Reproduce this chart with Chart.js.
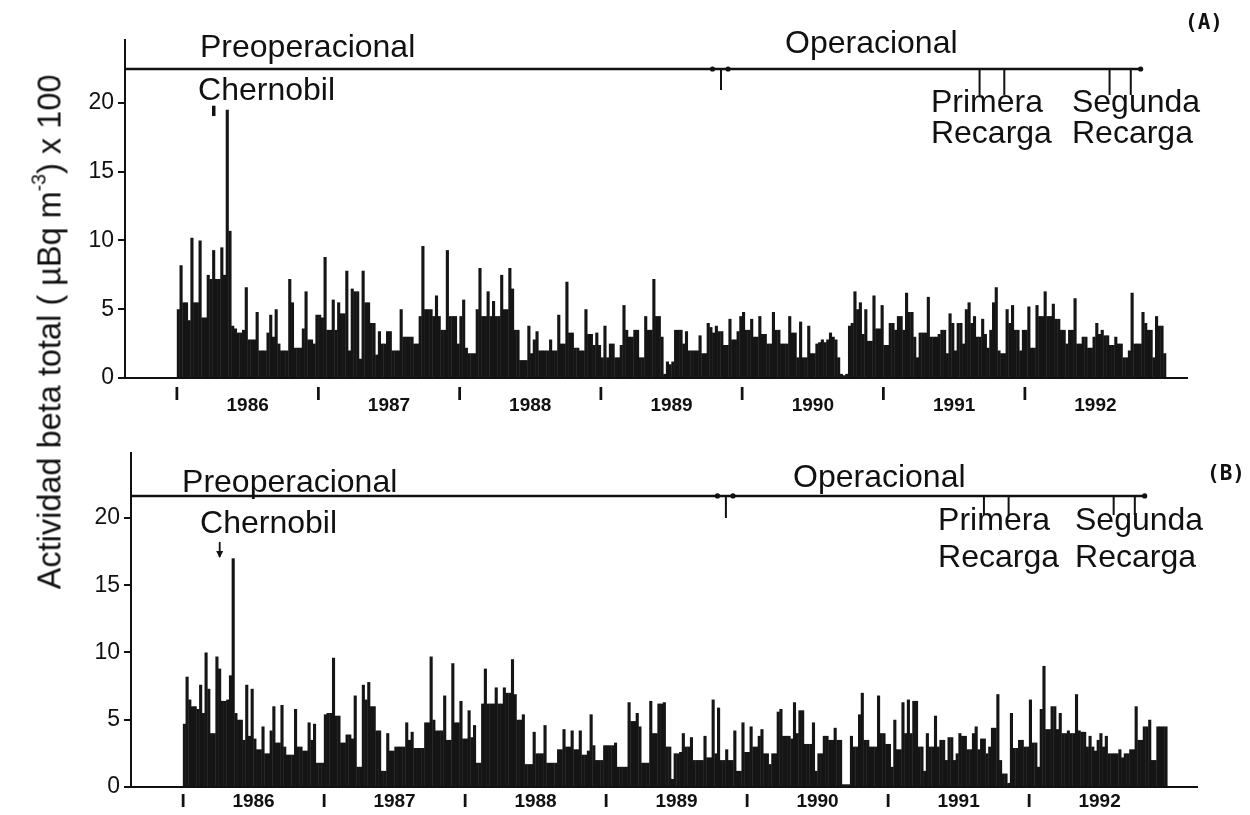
<!DOCTYPE html>
<html><head><meta charset="utf-8">
<script src="https://cdn.jsdelivr.net/npm/chart.js@4.4.1/dist/chart.umd.min.js"></script>
<style>
html,body{margin:0;padding:0;background:#fff;}
body{width:1250px;height:815px;position:relative;overflow:hidden;}
canvas{position:absolute;left:0;}
#cA{top:0;} #cB{top:425px;}
#ytitle{position:absolute;left:50px;top:332px;transform:translate(-50%,-50%) rotate(-90deg);white-space:nowrap;font-family:"Liberation Sans",Arial,sans-serif;font-size:32.5px;color:#111;}
#ytitle sup{font-size:0.6em;line-height:0;vertical-align:0.75em;}
</style></head>
<body>
<canvas id="cA" width="1250" height="425"></canvas>
<canvas id="cB" width="1250" height="390"></canvas>
<div id="ytitle">Actividad beta total ( µBq m<sup>-3</sup>) x 100</div>
<script>
// ---------- data ----------
const years = [1986, 1987, 1988, 1989, 1990, 1991, 1992];
const startYear = 1986;
const weeksPerYear = 52;
const yTicks = [0, 5, 10, 15, 20];

// Panel (A): weekly total beta activity (x100 µBq/m3)
const betaA = [
  // 1986
  5.0, 8.2, 5.5, 5.5, 4.2, 10.2, 5.5, 5.5, 10.0, 4.4,
  4.4, 7.5, 7.2, 9.3, 7.2, 7.2, 9.5, 7.5, 19.5, 10.7,
  3.8, 3.6, 3.3, 3.3, 3.5, 6.6, 2.8, 2.8, 2.8, 4.8,
  2.0, 2.0, 2.0, 3.3, 4.6, 3.0, 5.0, 2.5, 2.0, 2.0,
  2.0, 7.2, 5.5, 2.2, 2.2, 2.2, 3.6, 6.3, 2.8, 2.8,
  2.5, 4.6,
  // 1987
  4.6, 4.4, 8.8, 3.5, 3.5, 5.7, 3.5, 5.5, 4.7, 4.7,
  7.8, 2.0, 6.5, 6.3, 6.3, 1.4, 7.8, 5.5, 5.5, 4.0,
  4.0, 1.7, 3.4, 2.5, 2.5, 3.4, 3.4, 2.0, 2.0, 2.0,
  5.0, 3.0, 3.0, 3.0, 3.0, 2.5, 2.5, 4.5, 9.6, 5.0,
  5.0, 5.0, 4.5, 6.0, 4.5, 3.5, 3.5, 9.3, 4.5, 4.5,
  4.5, 2.5,
  // 1988
  4.5, 5.7, 2.2, 1.8, 1.8, 1.8, 5.0, 8.0, 4.5, 4.5,
  6.3, 4.5, 5.6, 4.5, 4.5, 7.5, 5.0, 5.0, 8.0, 6.5,
  3.5, 3.5, 1.3, 1.3, 1.3, 3.8, 1.8, 2.8, 3.4, 2.0,
  2.0, 2.0, 2.0, 2.8, 2.0, 2.0, 4.6, 2.5, 2.5, 7.0,
  3.3, 3.3, 2.2, 2.2, 2.0, 2.0, 5.0, 3.2, 3.2, 2.4,
  3.3, 2.4,
  // 1989
  1.5, 3.8, 1.5, 2.5, 2.5, 1.5, 1.5, 2.4, 5.3, 3.5,
  3.0, 3.0, 3.5, 3.5, 1.5, 1.5, 4.5, 3.5, 3.5, 7.2,
  4.5, 4.5, 3.0, 0.3, 1.2, 1.0, 1.2, 3.5, 3.5, 3.5,
  2.5, 3.4, 2.0, 2.0, 2.0, 2.0, 3.1, 1.8, 1.8, 4.0,
  3.7, 3.3, 3.8, 3.4, 3.4, 2.4, 2.4, 4.3, 2.8, 2.8,
  3.4, 4.5,
  // 1990
  4.8, 3.5, 3.5, 4.3, 3.0, 3.0, 4.5, 3.2, 3.2, 2.5,
  2.5, 4.8, 3.5, 3.5, 2.5, 2.5, 2.5, 4.5, 3.3, 3.3,
  1.5, 4.1, 1.5, 1.5, 3.8, 1.8, 1.8, 2.5, 2.6, 2.8,
  2.6, 2.8, 3.3, 3.0, 2.8, 1.5, 0.3, 0.2, 0.3, 3.8,
  4.0, 6.3, 5.0, 5.5, 3.2, 5.0, 2.7, 2.7, 6.0, 3.6,
  3.6, 5.3,
  // 1991
  2.4, 2.4, 4.0, 4.0, 3.5, 4.5, 4.5, 3.5, 6.2, 4.8,
  4.8, 3.0, 1.5, 3.3, 3.3, 3.3, 5.9, 3.0, 3.0, 3.0,
  3.2, 3.5, 3.5, 1.8, 4.7, 4.0, 2.0, 4.0, 4.0, 2.5,
  5.0, 5.5, 4.0, 4.5, 3.0, 3.0, 4.3, 3.2, 2.2, 3.5,
  5.5, 6.6, 2.0, 1.8, 1.8, 5.0, 4.0, 5.3, 3.5, 3.5,
  2.0, 3.5,
  // 1992
  3.5, 5.2, 2.2, 2.2, 5.3, 4.5, 4.5, 6.3, 4.5, 4.5,
  5.4, 4.3, 4.3, 3.5, 3.5, 2.5, 3.5, 3.5, 5.8, 2.5,
  2.5, 3.0, 3.0, 2.2, 2.2, 3.0, 4.0, 3.2, 3.5, 3.1,
  3.1, 2.4, 2.4, 3.0, 2.5, 2.5, 1.5, 1.5, 2.0, 6.2,
  2.5, 2.5, 2.5, 4.8, 4.0, 3.5, 3.5, 1.5, 4.5, 3.8,
  3.8, 1.8
];

// Panel (B): weekly total beta activity (x100 µBq/m3)
const betaB = [
  // 1986
  4.7, 8.2, 6.5, 6.0, 6.0, 5.8, 7.6, 5.5, 10.0, 7.3,
  4.0, 4.0, 9.7, 8.8, 6.4, 6.4, 6.5, 8.3, 17.0, 5.5,
  5.0, 5.0, 3.5, 7.6, 3.8, 7.3, 3.6, 2.8, 2.8, 4.5,
  2.5, 2.5, 4.2, 6.0, 3.3, 3.3, 6.1, 3.0, 2.4, 2.4,
  2.4, 5.8, 3.0, 3.0, 2.7, 2.7, 4.8, 3.5, 4.7, 1.8,
  1.8, 1.8,
  // 1987
  5.4, 5.5, 5.5, 9.6, 5.3, 5.3, 3.3, 3.3, 3.9, 3.9,
  3.6, 6.8, 1.5, 1.5, 7.6, 6.5, 7.8, 6.0, 6.0, 4.2,
  4.2, 1.2, 1.2, 4.0, 2.7, 2.7, 3.0, 3.0, 3.0, 3.0,
  4.8, 3.5, 4.1, 2.9, 2.9, 2.9, 2.9, 4.8, 4.8, 9.7,
  5.0, 4.2, 4.2, 4.2, 6.8, 3.5, 3.5, 9.2, 4.8, 4.8,
  6.4, 3.6,
  // 1988
  3.6, 5.7, 3.7, 4.6, 1.8, 1.8, 6.2, 8.8, 6.2, 6.2,
  6.2, 7.4, 6.2, 6.2, 7.4, 7.0, 7.0, 9.5, 6.9, 5.0,
  5.0, 5.4, 1.7, 1.7, 1.7, 4.1, 2.5, 2.5, 2.5, 4.6,
  1.8, 1.8, 1.8, 1.8, 2.8, 2.8, 4.3, 3.0, 3.0, 4.2,
  2.8, 2.8, 4.2, 2.4, 2.4, 2.7, 5.4, 3.1, 2.0, 2.0,
  2.0, 3.1,
  // 1989
  3.1, 3.1, 3.1, 3.3, 1.5, 1.5, 1.5, 1.5, 6.3, 4.9,
  4.9, 5.5, 4.5, 1.8, 1.8, 1.8, 6.4, 4.0, 4.0, 6.2,
  6.2, 6.3, 3.0, 3.0, 0.6, 2.5, 2.5, 2.6, 4.0, 3.0,
  3.0, 3.7, 2.0, 2.0, 2.0, 2.0, 3.8, 2.2, 2.2, 6.5,
  2.5, 5.9, 2.0, 2.0, 2.8, 2.0, 2.0, 4.2, 1.2, 1.2,
  4.8, 2.6,
  // 1990
  2.6, 4.5, 3.0, 3.0, 3.8, 4.3, 2.5, 2.5, 1.7, 2.5,
  2.5, 5.6, 5.8, 3.8, 3.8, 3.8, 3.6, 6.3, 4.0, 5.7,
  5.7, 3.2, 3.2, 3.2, 4.8, 1.2, 2.5, 2.5, 3.8, 3.8,
  3.5, 3.5, 4.4, 3.5, 3.5, 0.2, 0.2, 0.2, 3.8, 3.0,
  3.0, 5.4, 7.0, 3.5, 3.5, 3.0, 3.0, 3.0, 6.8, 4.0,
  4.0, 3.2,
  // 1991
  3.2, 1.5, 5.0, 2.8, 2.8, 6.3, 4.0, 6.5, 4.0, 6.4,
  6.4, 3.0, 3.0, 1.2, 4.0, 3.0, 3.0, 5.3, 3.0, 3.5,
  3.5, 2.0, 3.7, 3.7, 2.0, 2.5, 4.0, 3.8, 3.8, 2.8,
  2.8, 4.0, 4.5, 2.8, 3.6, 3.6, 2.5, 3.0, 4.4, 4.4,
  6.9, 2.0, 1.0, 1.0, 0.3, 5.5, 2.9, 2.9, 3.5, 3.5,
  3.0, 3.0,
  // 1992
  6.5, 3.3, 3.3, 1.5, 5.8, 9.0, 4.3, 4.3, 6.0, 6.0,
  4.3, 5.5, 4.0, 4.0, 4.2, 4.0, 4.0, 6.9, 4.2, 4.1,
  4.1, 3.0, 3.8, 3.0, 2.7, 3.5, 4.0, 3.0, 3.8, 2.5,
  2.5, 2.5, 2.5, 2.8, 2.2, 2.5, 2.5, 2.8, 2.8, 6.0,
  3.5, 3.5, 4.5, 4.5, 5.0, 2.0, 2.0, 4.5, 4.5, 4.5,
  4.5
];

// Phase / event dates (decimal years)
const operationStart = 1989.85;
const refuelDates = [1991.68, 1991.855, 1992.6, 1992.75];
const phaseLineEnd = 1992.82;
const chernobylDate = 1986.26;
const phaseLabels = ['Preoperacional', 'Operacional'];
const eventLabels = ['Chernobil', 'Primera', 'Recarga', 'Segunda', 'Recarga'];
const panelLabels = ['(A)', '(B)'];

// ---------- drawing ----------
const notesPlugin = {
  id: 'phaseNotes',
  afterDraw(chart, args, o) {
    const {ctx, chartArea: ca, scales: {x, y}} = chart;
    const px = v => x.getPixelForValue(v), py = v => y.getPixelForValue(v);
    ctx.save();
    ctx.strokeStyle = '#111'; ctx.fillStyle = '#111';
    const ly = py(o.lineLevel);
    ctx.lineWidth = 2.5;
    ctx.beginPath(); ctx.moveTo(ca.left, ly); ctx.lineTo(px(phaseLineEnd), ly); ctx.stroke();
    ctx.lineWidth = 2;
    ctx.beginPath();
    ctx.moveTo(px(operationStart), ly); ctx.lineTo(px(operationStart), py(o.opDropTo));
    refuelDates.forEach(d => { ctx.moveTo(px(d), ly); ctx.lineTo(px(d), py(o.dropTo)); });
    ctx.stroke();
    [operationStart - 0.06, operationStart + 0.05, phaseLineEnd].forEach(d => {
      ctx.beginPath(); ctx.arc(px(d), ly, 2.6, 0, Math.PI * 2); ctx.fill();
    });
    // Chernobyl marker
    const cx = px(chernobylDate), c1 = py(o.chern[0]), c2 = py(o.chern[1]);
    ctx.lineWidth = o.chernArrow ? 1.8 : 3.5;
    ctx.beginPath(); ctx.moveTo(cx, c1); ctx.lineTo(cx, c2); ctx.stroke();
    if (o.chernArrow) {
      ctx.beginPath(); ctx.moveTo(cx - 3.5, c2 - 6); ctx.lineTo(cx + 3.5, c2 - 6); ctx.lineTo(cx, c2 + 1); ctx.closePath(); ctx.fill();
    }
    // texts
    ctx.font = '32px "Liberation Sans"'; ctx.textAlign = 'left'; ctx.textBaseline = 'alphabetic';
    o.texts.forEach(t => ctx.fillText(t[0], px(t[1]), py(t[2])));
    ctx.font = 'bold 21px "DejaVu Sans Mono"'; ctx.textBaseline = 'middle';
    ctx.fillText(o.panel[0], px(o.panel[1]), py(o.panel[2]));
    ctx.restore();
  }
};

function makeChart(id, values, P) {
  const pts = values.map((v, i) => ({x: startYear + (i + 0.5) / weeksPerYear, y: v}));
  const tickVals = [];
  years.forEach(yr => { tickVals.push(yr); tickVals.push(yr + 0.5); });
  return new Chart(document.getElementById(id), {
    type: 'bar',
    data: {datasets: [{data: pts, backgroundColor: '#151515', borderWidth: 0, barPercentage: 1.15, categoryPercentage: 1}]},
    options: {
      responsive: false, animation: false, devicePixelRatio: 1,
      layout: {padding: {left: 0, right: P.padRight, top: P.padTop, bottom: 0}},
      plugins: {legend: {display: false}, tooltip: {enabled: false}, phaseNotes: P.notes},
      scales: {
        x: {
          type: 'linear', min: P.xMin, max: P.xMax, offset: false,
          grid: {display: false, drawTicks: false},
          border: {display: true, color: '#111', width: 2},
          afterBuildTicks: s => { s.ticks = tickVals.map(v => ({value: v})); },
          afterFit: s => { s.height = P.xHeight; },
          ticks: {
            autoSkip: false, maxRotation: 0, minRotation: 0, color: '#111', padding: P.xPad,
            font: {family: 'Liberation Sans', weight: 'bold', size: 19, lineHeight: P.lineH},
            callback: v => Number.isInteger(v) ? 'I' : (P.twoLine ? ['', String(Math.floor(v))] : String(Math.floor(v)))
          }
        },
        y: {
          min: 0, max: P.yMax,
          grid: {display: true, drawOnChartArea: false, drawTicks: true, tickLength: 7, color: '#111', lineWidth: 2},
          border: {display: true, color: '#111', width: 2},
          afterBuildTicks: s => { s.ticks = yTicks.map(v => ({value: v})); },
          afterFit: s => { s.width = P.yWidth; },
          ticks: {color: '#111', padding: 4, font: {family: 'Liberation Sans', size: 23}}
        }
      }
    },
    plugins: [notesPlugin]
  });
}

makeChart('cA', betaA, {
  padRight: 63, padTop: 40, xHeight: 47, yWidth: 125, yMax: 24.58,
  xMin: 1985.632, xMax: 1993.148, xPad: 12, lineH: 0.55, twoLine: true,
  notes: {
    lineLevel: 22.47, opDropTo: 20.95, dropTo: 20.58, chern: [19.8, 19.05], chernArrow: false,
    texts: [
      [phaseLabels[0], 1986.163, 23.35], [phaseLabels[1], 1990.303, 23.64],
      [eventLabels[0], 1986.149, 20.22],
      [eventLabels[1], 1991.336, 19.35], [eventLabels[2], 1991.336, 17.09],
      [eventLabels[3], 1992.334, 19.35], [eventLabels[4], 1992.334, 17.09]
    ],
    panel: [panelLabels[0], 1993.134, 25.8]
  }
});

makeChart('cB', betaB, {
  padRight: 53, padTop: 28, xHeight: 28, yWidth: 131, yMax: 24.83,
  xMin: 1985.631, xMax: 1993.191, xPad: 3, lineH: 1.2, twoLine: false,
  notes: {
    lineLevel: 21.64, opDropTo: 20.0, dropTo: 20.22, chern: [18.22, 17.1], chernArrow: true,
    texts: [
      [phaseLabels[0], 1985.993, 21.93], [phaseLabels[1], 1990.326, 22.30],
      [eventLabels[0], 1986.121, 18.88],
      [eventLabels[1], 1991.355, 19.11], [eventLabels[2], 1991.355, 16.36],
      [eventLabels[3], 1992.326, 19.11], [eventLabels[4], 1992.326, 16.36]
    ],
    panel: [panelLabels[1], 1993.262, 23.2]
  }
});
</script>
</body></html>
